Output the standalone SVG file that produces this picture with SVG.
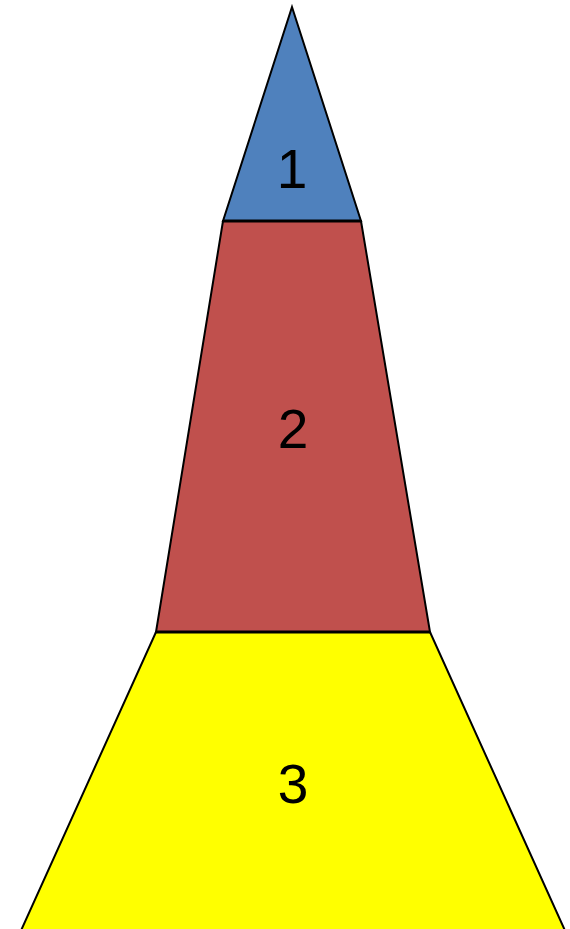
<svg xmlns="http://www.w3.org/2000/svg" width="570" height="929" viewBox="0 0 570 929">
<style>
.s{stroke:#000;stroke-width:2;stroke-linejoin:miter}
.t{font-family:"Liberation Sans",Arial,sans-serif;font-size:55px;fill:#000;text-anchor:middle}
</style>
<rect width="570" height="929" fill="#fff"/>
<g id="n3">
<polygon class="s" points="156,632 430,632 567,935 19,935" fill="#FFFF00"/>
<text class="t" x="293" y="803">3</text>
</g>
<g id="n2">
<polygon class="s" points="223,221 361,221 430,632 156,632" fill="#C0504D"/>
<text class="t" x="293" y="448">2</text>
</g>
<g id="n1">
<polygon class="s" points="292,7 361,221 223,221" fill="#4F81BD"/>
<text class="t" x="292" y="188">1</text>
</g>
<g id="connectors">
<line x1="223" y1="221" x2="361" y2="221" stroke="#000" stroke-width="3"/>
<line x1="156" y1="632" x2="430" y2="632" stroke="#000" stroke-width="3"/>
</g>
</svg>
